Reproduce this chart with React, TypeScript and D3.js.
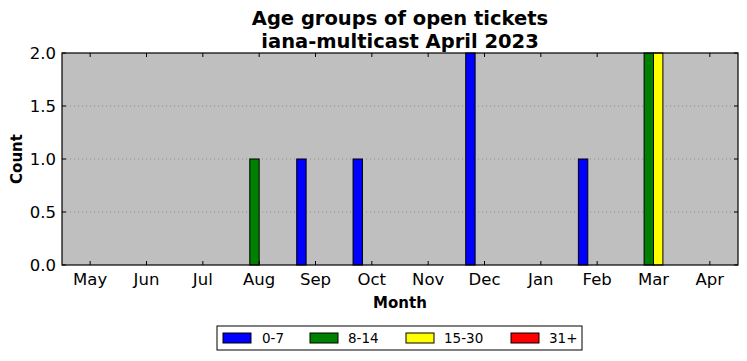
import React from "react";
import * as d3 from "d3";

const months = ["May", "Jun", "Jul", "Aug", "Sep", "Oct", "Nov", "Dec", "Jan", "Feb", "Mar", "Apr"];
const seriesNames = ["0-7", "8-14", "15-30", "31+"];
const seriesColors = ["#0000ff", "#008000", "#ffff00", "#ff0000"];
const s0_7 = [0, 0, 0, 0, 1, 1, 0, 2, 0, 1, 0, 0];
const s8_14 = [0, 0, 0, 1, 0, 0, 0, 0, 0, 0, 2, 0];
const s15_30 = [0, 0, 0, 0, 0, 0, 0, 0, 0, 0, 2, 0];
const s31 = [0, 0, 0, 0, 0, 0, 0, 0, 0, 0, 0, 0];
const yTicks = [0, 0.5, 1.0, 1.5, 2.0];

const W = 747, H = 361;
const L = 62, R = 738, T = 53, B = 265;
const FONT = "DejaVu Sans, sans-serif";

export default function App() {
  const series = [s0_7, s8_14, s15_30, s31];
  const x = d3.scaleBand<string>().domain(months).range([L, R]).padding(0);
  const bw = x.bandwidth() / 6;
  const y = d3.scaleLinear().domain([0, 2]).range([B, T]);
  const cx = (m: string) => (x(m) as number) + x.bandwidth() / 2;

  const legendX = 217, legendY = 326, legendW = 365, legendH = 24;
  const legendItems = [
    { x: 223, tx: 262 },
    { x: 310, tx: 348 },
    { x: 406, tx: 444 },
    { x: 511, tx: 549 },
  ];

  return (
    <svg width={W} height={H} style={{ position: "absolute", left: 0, top: 0, background: "#fff" }} fontFamily={FONT}>
      <rect x={0} y={0} width={W} height={H} fill="#fff" />
      <rect x={L} y={T} width={R - L} height={B - T} fill="#bfbfbf" />
      {yTicks.slice(1, -1).map((t) => (
        <line key={"g" + t} x1={L} x2={R} y1={y(t)} y2={y(t)} stroke="#8c8c8c" strokeWidth={1} strokeDasharray="1,3" />
      ))}
      {series.map((vals, si) =>
        vals.map((v, i) => {
          const m = months[i];
          const x0 = cx(m) + (si - 2) * bw;
          return (
            <rect
              key={si + "-" + i}
              x={x0}
              y={y(v)}
              width={bw}
              height={y(0) - y(v)}
              fill={seriesColors[si]}
              stroke="#000"
              strokeWidth={1}
            />
          );
        })
      )}
      {months.map((m) => (
        <g key={"xt" + m}>
          <line x1={cx(m)} x2={cx(m)} y1={B} y2={B - 4} stroke="#000" />
          <line x1={cx(m)} x2={cx(m)} y1={T} y2={T + 4} stroke="#000" />
          <text x={cx(m)} y={B + 20} textAnchor="middle" fontSize={16.5} fill="#000">{m}</text>
        </g>
      ))}
      {yTicks.map((t) => (
        <g key={"yt" + t}>
          <line x1={L} x2={L + 4} y1={y(t)} y2={y(t)} stroke="#000" />
          <line x1={R} x2={R - 4} y1={y(t)} y2={y(t)} stroke="#000" />
          <text x={L - 6} y={y(t) + 6} textAnchor="end" fontSize={16.5} fill="#000">{t.toFixed(1)}</text>
        </g>
      ))}
      <rect x={L} y={T} width={R - L} height={B - T} fill="none" stroke="#000" strokeWidth={1.2} />
      <text x={400} y={25} textAnchor="middle" fontSize={19.5} fontWeight="bold">Age groups of open tickets</text>
      <text x={400} y={48} textAnchor="middle" fontSize={19.5} fontWeight="bold">iana-multicast April 2023</text>
      <text x={400} y={308} textAnchor="middle" fontSize={15} fontWeight="bold">Month</text>
      <text transform={`translate(22,${(T + B) / 2}) rotate(-90)`} textAnchor="middle" fontSize={15} fontWeight="bold">Count</text>
      <rect x={legendX} y={legendY} width={legendW} height={legendH} fill="#fff" stroke="#000" strokeWidth={1} />
      {legendItems.map((it, i) => (
        <g key={"l" + i}>
          <rect x={it.x} y={legendY + 7} width={28} height={10} fill={seriesColors[i]} stroke="#000" strokeWidth={1} />
          <text x={it.tx} y={legendY + 17} fontSize={13.5} fill="#000">{seriesNames[i]}</text>
        </g>
      ))}
    </svg>
  );
}
